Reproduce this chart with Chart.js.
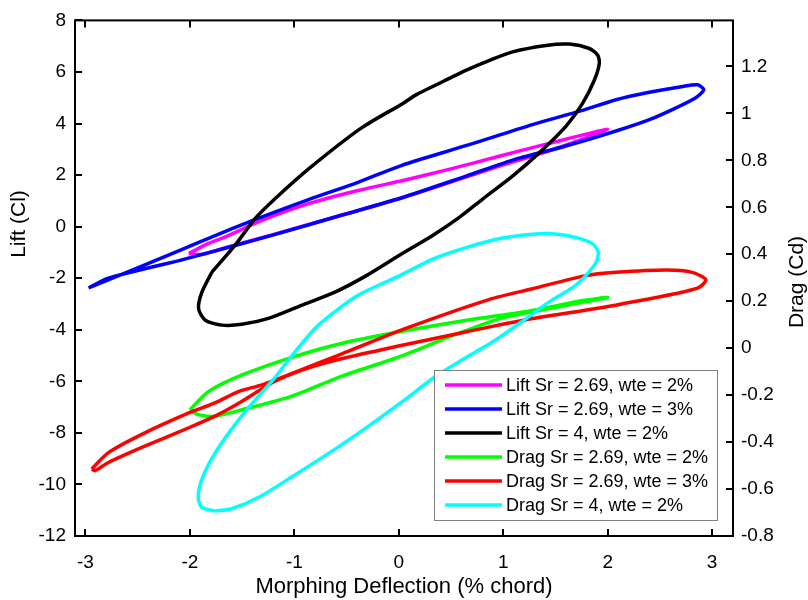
<!DOCTYPE html>
<html>
<head>
<meta charset="utf-8">
<script src="https://cdn.jsdelivr.net/npm/chart.js@4.4.1/dist/chart.umd.min.js"></script>
<style>
  body { margin: 0; background: #fff; }
</style>
</head>
<body>
<canvas id="myChart" width="808" height="600"></canvas>
<script>
// axes
var xTicks = [-3, -2, -1, 0, 1, 2, 3];
var liftTicks = [-12, -10, -8, -6, -4, -2, 0, 2, 4, 6, 8];
var dragTicks = [-0.8, -0.6, -0.4, -0.2, 0, 0.2, 0.4, 0.6, 0.8, 1, 1.2];

var labels = [
  "Lift Sr = 2.69, wte = 2%",
  "Lift Sr = 2.69, wte = 3%",
  "Lift Sr = 4, wte = 2%",
  "Drag Sr = 2.69, wte = 2%",
  "Drag Sr = 2.69, wte = 3%",
  "Drag Sr = 4, wte = 2%"
];

// lift loops (left axis)
var liftA_x = [-2.01, -1.82, -1.66, -1.31, -0.87, -0.39, 0.05, 0.49, 0.97, 1.44, 2.0, 1.44, 0.97, 0.49, 0.03, -0.55, -1.19, -1.66, -1.89, -2.01];
var liftA_y = [-1.04, -0.65, -0.40, 0.24, 0.88, 1.40, 1.80, 2.23, 2.74, 3.23, 3.77, 2.94, 2.36, 1.72, 1.12, 0.44, -0.29, -0.82, -1.08, -1.04];

var liftB_x = [-2.97, -2.50, -2.05, -1.50, -0.87, -0.39, 0.03, 0.65, 1.28, 1.76, 2.08, 2.40, 2.72, 2.86, 2.92, 2.84, 2.65, 2.40, 2.08, 1.60, 1.12, 0.65, 0.03, -0.55, -1.19, -2.05, -2.78, -2.97];
var liftB_y = [-2.38, -1.60, -0.84, 0.08, 1.04, 1.72, 2.38, 3.15, 3.96, 4.51, 4.92, 5.21, 5.44, 5.50, 5.31, 4.99, 4.60, 4.15, 3.71, 3.13, 2.62, 1.97, 1.12, 0.44, -0.31, -1.26, -2.00, -2.38];

var liftC_x = [-1.79, -1.885, -1.917, -1.853, -1.694, -1.503, -1.248, -0.93, -0.611, -0.31, 0.01, 0.328, 0.583, 0.806, 1.092, 1.347, 1.602, 1.761, 1.873, 1.92, 1.905, 1.825, 1.634, 1.41, 1.09, 0.87, 0.647, 0.424, 0.169, 0.04, -0.357, -0.866, -1.185, -1.376, -1.567, -1.79];
var liftC_y = [-1.77, -2.54, -3.18, -3.63, -3.82, -3.79, -3.56, -3.05, -2.54, -1.90, -1.10, -0.33, 0.37, 1.08, 1.97, 2.87, 3.90, 4.79, 5.69, 6.33, 6.65, 6.91, 7.08, 7.03, 6.78, 6.45, 6.07, 5.63, 5.12, 4.78, 3.83, 2.23, 1.08, 0.31, -0.72, -1.77];

// drag loops (right axis)
var dragA_x = [-2.0, -1.82, -1.50, -1.03, -0.55, 0.06, 0.65, 1.28, 1.76, 2.0, 1.60, 0.97, 0.49, 0.01, -0.55, -1.03, -1.50, -1.76, -1.92, -2.0];
var dragA_y = [-0.262, -0.184, -0.114, -0.04, 0.02, 0.074, 0.119, 0.161, 0.203, 0.216, 0.182, 0.126, 0.049, -0.036, -0.12, -0.205, -0.262, -0.29, -0.283, -0.262];

var dragB_x = [-2.94, -2.78, -2.46, -2.01, -1.76, -1.53, -1.31, -1.02, -0.55, 0.06, 0.87, 1.28, 1.79, 2.08, 2.56, 2.81, 2.94, 2.88, 2.72, 2.49, 1.92, 1.28, 0.65, 0.01, -0.55, -0.87, -1.19, -1.50, -1.73, -2.01, -2.46, -2.78, -2.91, -2.94];
var dragB_y = [-0.515, -0.445, -0.367, -0.276, -0.233, -0.184, -0.156, -0.107, -0.025, 0.083, 0.208, 0.253, 0.309, 0.323, 0.333, 0.323, 0.292, 0.26, 0.239, 0.218, 0.171, 0.126, 0.07, 0.01, -0.045, -0.085, -0.142, -0.226, -0.283, -0.339, -0.423, -0.487, -0.522, -0.515];

var dragC_x = [-1.76, -1.60, -1.34, -1.03, -0.61, -0.29, 0.06, 0.33, 0.58, 0.90, 1.22, 1.44, 1.67, 1.79, 1.89, 1.91, 1.86, 1.70, 1.44, 1.28, 0.97, 0.65, 0.33, 0.01, -0.39, -0.77, -1.03, -1.19, -1.44, -1.66, -1.82, -1.90, -1.92, -1.89, -1.76];
var dragC_y = [-0.694, -0.684, -0.635, -0.55, -0.43, -0.332, -0.219, -0.127, -0.057, 0.027, 0.126, 0.197, 0.26, 0.309, 0.366, 0.408, 0.443, 0.471, 0.488, 0.485, 0.467, 0.429, 0.38, 0.309, 0.225, 0.098, -0.036, -0.128, -0.254, -0.381, -0.494, -0.578, -0.635, -0.677, -0.694];

var colors = ["#ff00ff", "#0000ff", "#000000", "#00ff00", "#ff0000", "#00ffff"];

function pts(xs, ys) {
  var out = [];
  for (var i = 0; i < xs.length; i++) out.push({ x: xs[i], y: ys[i] });
  return out;
}

var series = [
  [liftA_x, liftA_y, "y"],
  [liftB_x, liftB_y, "y"],
  [liftC_x, liftC_y, "y"],
  [dragA_x, dragA_y, "y1"],
  [dragB_x, dragB_y, "y1"],
  [dragC_x, dragC_y, "y1"]
];

var datasets = [];
for (var i = 0; i < series.length; i++) {
  datasets.push({
    label: labels[i],
    data: pts(series[i][0], series[i][1]),
    yAxisID: series[i][2],
    borderColor: colors[i],
    backgroundColor: colors[i],
    borderWidth: 3.5,
    showLine: true,
    pointRadius: 0,
    tension: 0.25,
    fill: false,
    order: series.length - i  // later ones on top, like matlab
  });
}

var FONT = "'Liberation Sans', Arial, Helvetica, sans-serif";

function setTicks(arr) {
  return function (scale) {
    scale.ticks = arr.map(function (v) { return { value: v }; });
  };
}

// box, inward ticks, y titles and legend
var frame = {
  id: "frame",
  afterDraw: function (chart) {
    var ctx = chart.ctx, a = chart.chartArea, s = chart.scales;
    ctx.save();
    ctx.strokeStyle = "#000";
    ctx.lineWidth = 2;
    ctx.strokeRect(a.left, a.top, a.right - a.left, a.bottom - a.top);
    ctx.beginPath();
    xTicks.forEach(function (v) {
      var p = Math.round(s.x.getPixelForValue(v));
      ctx.moveTo(p, a.bottom); ctx.lineTo(p, a.bottom - 7);
      ctx.moveTo(p, a.top); ctx.lineTo(p, a.top + 7);
    });
    liftTicks.forEach(function (v) {
      var p = Math.round(s.y.getPixelForValue(v));
      ctx.moveTo(a.left, p); ctx.lineTo(a.left + 7, p);
    });
    dragTicks.forEach(function (v) {
      var p = Math.round(s.y1.getPixelForValue(v));
      ctx.moveTo(a.right, p); ctx.lineTo(a.right - 7, p);
    });
    ctx.stroke();

    // y titles
    ctx.fillStyle = "#000";
    ctx.font = "21px " + FONT;
    ctx.textAlign = "center";
    ctx.textBaseline = "middle";
    ctx.save();
    ctx.translate(19, 224);
    ctx.rotate(-Math.PI / 2);
    ctx.fillText("Lift (Cl)", 0, 0);
    ctx.restore();
    ctx.save();
    ctx.translate(797, 282);
    ctx.rotate(-Math.PI / 2);
    ctx.fillText("Drag (Cd)", 0, 0);
    ctx.restore();

    // legend box
    var lx = 434, ly = 370, lw = 283, lh = 150;
    ctx.fillStyle = "#fff";
    ctx.fillRect(lx, ly, lw, lh);
    ctx.strokeStyle = "#808080";
    ctx.lineWidth = 1;
    ctx.strokeRect(lx + 0.5, ly + 0.5, lw, lh);
    ctx.font = "18px " + FONT;
    ctx.textAlign = "left";
    for (var i = 0; i < labels.length; i++) {
      var yy = ly + 15 + i * 24;
      ctx.strokeStyle = colors[i];
      ctx.lineWidth = 3.5;
      ctx.beginPath();
      ctx.moveTo(lx + 11, yy);
      ctx.lineTo(lx + 68, yy);
      ctx.stroke();
      ctx.fillStyle = "#000";
      ctx.fillText(labels[i], lx + 72, yy + 1);
    }
    ctx.restore();
  }
};

var ctx = document.getElementById("myChart");
new Chart(ctx, {
  type: "scatter",
  data: { datasets: datasets },
  plugins: [frame],
  options: {
    responsive: false,
    animation: false,
    devicePixelRatio: 1,
    layout: { padding: { top: 16, left: 0, right: 0, bottom: 0 } },
    plugins: {
      legend: { display: false },
      tooltip: { enabled: false }
    },
    scales: {
      x: {
        type: "linear",
        position: "bottom",
        min: -3.1,
        max: 3.2,
        afterBuildTicks: setTicks(xTicks),
        afterFit: function (sc) { sc.height = 64; },
        grid: { display: false, drawTicks: false },
        border: { display: false },
        ticks: {
          padding: 15,
          color: "#000",
          font: { family: FONT, size: 19 },
          callback: function (v) { return String(v); }
        },
        title: {
          display: true,
          text: "Morphing Deflection (% chord)",
          color: "#000",
          font: { family: FONT, size: 22 },
          padding: { top: 0, bottom: 0 }
        }
      },
      y: {
        type: "linear",
        position: "left",
        min: -12,
        max: 8,
        afterBuildTicks: setTicks(liftTicks),
        afterFit: function (sc) { sc.width = 75; },
        grid: { display: false, drawTicks: false },
        border: { display: false },
        ticks: {
          padding: 9,
          color: "#000",
          font: { family: FONT, size: 19 },
          callback: function (v) { return String(v); }
        }
      },
      y1: {
        type: "linear",
        position: "right",
        min: -0.8,
        max: 1.396,
        afterBuildTicks: setTicks(dragTicks),
        afterFit: function (sc) { sc.width = 75; },
        grid: { display: false, drawTicks: false },
        border: { display: false },
        ticks: {
          padding: 8,
          color: "#000",
          font: { family: FONT, size: 19 },
          callback: function (v) { return String(Math.round(v * 10) / 10); }
        }
      }
    }
  }
});
</script>
</body>
</html>
